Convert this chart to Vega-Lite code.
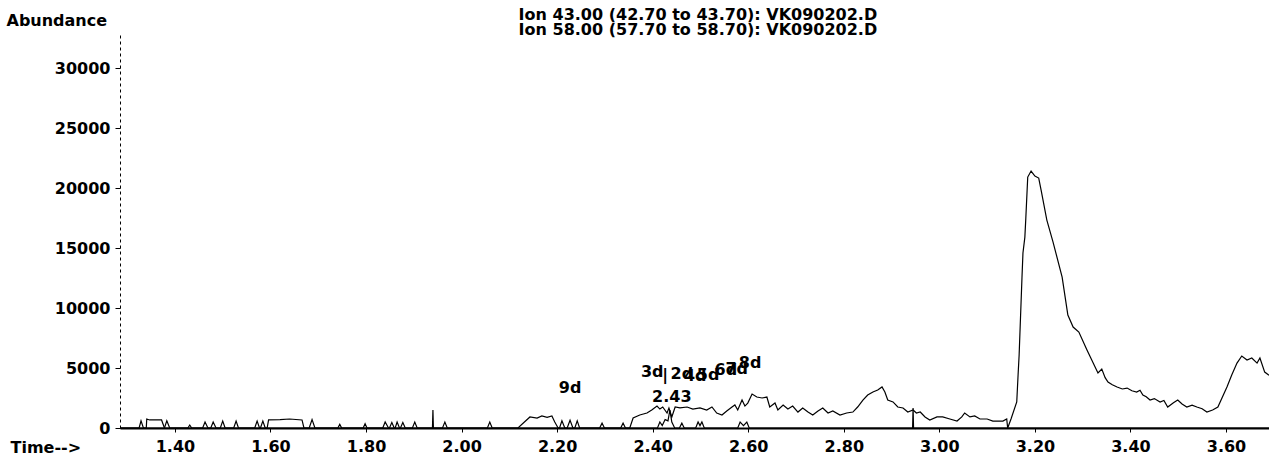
{
  "$schema": "https://vega.github.io/schema/vega-lite/v6.json",
  "width": 1149,
  "height": 396,
  "autosize": {"type": "none"},
  "padding": {"left": 120, "top": 32, "right": 0, "bottom": 33},
  "background": "white",
  "config": {
    "view": {"stroke": null},
    "font": "DejaVu Sans",
    "axis": {"grid": false, "domainColor": "black", "tickColor": "black", "labelColor": "black", "titleColor": "black"}
  },
  "datasets": {
    "ion43": [
      {"t":1.285,"v":0},{"t":1.340,"v":0},{"t":1.341,"v":750},{"t":1.347,"v":670},{"t":1.372,"v":670},{"t":1.378,"v":0},
      {"t":1.593,"v":0},{"t":1.596,"v":670},{"t":1.620,"v":690},{"t":1.640,"v":750},{"t":1.666,"v":670},{"t":1.670,"v":0},
      {"t":2.118,"v":0},{"t":2.143,"v":920},{"t":2.158,"v":830},{"t":2.168,"v":1000},{"t":2.179,"v":880},{"t":2.189,"v":1000},{"t":2.195,"v":500},{"t":2.202,"v":0},
      {"t":2.352,"v":0},{"t":2.359,"v":830},{"t":2.373,"v":1080},{"t":2.388,"v":1250},{"t":2.398,"v":1500},{"t":2.409,"v":1830},{"t":2.415,"v":1580},{"t":2.421,"v":1750},{"t":2.430,"v":1250},{"t":2.434,"v":1670},{"t":2.440,"v":920},{"t":2.447,"v":1750},{"t":2.457,"v":1670},{"t":2.472,"v":1750},{"t":2.484,"v":1580},{"t":2.499,"v":1670},{"t":2.513,"v":1500},{"t":2.524,"v":1750},{"t":2.534,"v":1250},{"t":2.545,"v":1080},{"t":2.555,"v":1420},{"t":2.566,"v":1750},{"t":2.572,"v":1920},{"t":2.578,"v":1500},{"t":2.587,"v":2330},{"t":2.593,"v":1830},{"t":2.599,"v":2080},{"t":2.608,"v":2830},{"t":2.618,"v":2580},{"t":2.629,"v":2500},{"t":2.639,"v":2580},{"t":2.645,"v":1750},{"t":2.656,"v":2080},{"t":2.662,"v":1500},{"t":2.673,"v":1920},{"t":2.683,"v":1580},{"t":2.693,"v":1830},{"t":2.704,"v":1330},{"t":2.714,"v":1670},{"t":2.725,"v":1330},{"t":2.735,"v":1080},{"t":2.746,"v":1420},{"t":2.756,"v":1670},{"t":2.767,"v":1250},{"t":2.777,"v":1420},{"t":2.792,"v":1080},{"t":2.806,"v":1250},{"t":2.819,"v":1330},{"t":2.829,"v":1750},{"t":2.840,"v":2330},{"t":2.850,"v":2750},{"t":2.861,"v":3000},{"t":2.871,"v":3170},{"t":2.880,"v":3420},{"t":2.886,"v":3000},{"t":2.892,"v":2330},{"t":2.903,"v":2170},{"t":2.913,"v":1750},{"t":2.924,"v":1670},{"t":2.934,"v":1330},{"t":2.945,"v":1500},{"t":2.952,"v":1250},{"t":2.960,"v":1330},{"t":2.970,"v":920},{"t":2.980,"v":670},{"t":2.995,"v":920},{"t":3.007,"v":920},{"t":3.022,"v":750},{"t":3.037,"v":580},{"t":3.047,"v":920},{"t":3.053,"v":1250},{"t":3.064,"v":920},{"t":3.074,"v":1000},{"t":3.085,"v":750},{"t":3.100,"v":750},{"t":3.112,"v":580},{"t":3.133,"v":580},{"t":3.141,"v":750},{"t":3.143,"v":0},{"t":3.150,"v":750},
      {"t":3.162,"v":2170},{"t":3.165,"v":4580},{"t":3.167,"v":6080},{"t":3.173,"v":12580},{"t":3.175,"v":14580},{"t":3.179,"v":15910},{"t":3.181,"v":17490},{"t":3.185,"v":20910},{"t":3.192,"v":21410},{"t":3.200,"v":20990},{"t":3.208,"v":20830},{"t":3.213,"v":19830},{"t":3.225,"v":17330},{"t":3.238,"v":15490},{"t":3.257,"v":12580},{"t":3.269,"v":9410},{"t":3.280,"v":8410},{"t":3.292,"v":8000},{"t":3.309,"v":6500},{"t":3.313,"v":6160},{"t":3.332,"v":4580},{"t":3.340,"v":4910},{"t":3.347,"v":4200},{"t":3.353,"v":3830},{"t":3.362,"v":3600},{"t":3.372,"v":3420},{"t":3.383,"v":3250},{"t":3.393,"v":3330},{"t":3.403,"v":3100},{"t":3.413,"v":3000},{"t":3.420,"v":3150},{"t":3.426,"v":2750},{"t":3.433,"v":2600},{"t":3.441,"v":2330},{"t":3.450,"v":2450},{"t":3.462,"v":2170},{"t":3.470,"v":2300},{"t":3.478,"v":1750},{"t":3.490,"v":2100},{"t":3.499,"v":2330},{"t":3.508,"v":2000},{"t":3.518,"v":1750},{"t":3.529,"v":1900},{"t":3.539,"v":1750},{"t":3.550,"v":1600},{"t":3.560,"v":1330},{"t":3.572,"v":1500},{"t":3.583,"v":1750},{"t":3.602,"v":3420},{"t":3.612,"v":4420},{"t":3.623,"v":5410},{"t":3.633,"v":6000},{"t":3.644,"v":5660},{"t":3.654,"v":5830},{"t":3.665,"v":5410},{"t":3.671,"v":5830},{"t":3.681,"v":4660},{"t":3.690,"v":4400}
    ],
    "ion58": [
      {"t":1.285,"v":0},{"t":1.325,"v":0},{"t":1.329,"v":600},{"t":1.334,"v":0},{"t":1.378,"v":0},{"t":1.383,"v":600},{"t":1.389,"v":0},{"t":1.427,"v":0},{"t":1.431,"v":250},{"t":1.435,"v":0},{"t":1.458,"v":0},{"t":1.463,"v":500},{"t":1.469,"v":0},{"t":1.475,"v":0},{"t":1.480,"v":500},{"t":1.486,"v":0},{"t":1.495,"v":0},{"t":1.500,"v":580},{"t":1.505,"v":0},{"t":1.523,"v":0},{"t":1.528,"v":580},{"t":1.533,"v":0},{"t":1.567,"v":0},{"t":1.572,"v":580},{"t":1.577,"v":0},{"t":1.579,"v":0},{"t":1.584,"v":580},{"t":1.589,"v":0},{"t":1.681,"v":0},{"t":1.687,"v":700},{"t":1.693,"v":0},{"t":1.741,"v":0},{"t":1.745,"v":300},{"t":1.749,"v":0},{"t":1.794,"v":0},{"t":1.798,"v":350},{"t":1.802,"v":0},{"t":1.835,"v":0},{"t":1.840,"v":500},{"t":1.847,"v":0},{"t":1.849,"v":0},{"t":1.854,"v":450},{"t":1.859,"v":0},{"t":1.861,"v":0},{"t":1.865,"v":500},{"t":1.870,"v":0},{"t":1.872,"v":0},{"t":1.877,"v":450},{"t":1.882,"v":0},{"t":1.897,"v":0},{"t":1.902,"v":500},{"t":1.907,"v":0},{"t":1.939,"v":0},{"t":1.940,"v":1500},{"t":1.941,"v":0},{"t":1.960,"v":0},{"t":1.965,"v":500},{"t":1.970,"v":0},{"t":2.054,"v":0},{"t":2.059,"v":500},{"t":2.064,"v":0},{"t":2.205,"v":0},{"t":2.210,"v":600},{"t":2.216,"v":0},{"t":2.221,"v":0},{"t":2.227,"v":650},{"t":2.233,"v":0},{"t":2.237,"v":0},{"t":2.242,"v":600},{"t":2.247,"v":0},{"t":2.289,"v":0},{"t":2.294,"v":400},{"t":2.299,"v":0},{"t":2.333,"v":0},{"t":2.338,"v":400},{"t":2.343,"v":0},{"t":2.410,"v":0},{"t":2.415,"v":500},{"t":2.420,"v":200},{"t":2.426,"v":700},{"t":2.432,"v":600},{"t":2.436,"v":1500},{"t":2.440,"v":500},{"t":2.446,"v":0},{"t":2.456,"v":0},{"t":2.461,"v":400},{"t":2.466,"v":0},{"t":2.490,"v":0},{"t":2.495,"v":500},{"t":2.499,"v":200},{"t":2.503,"v":500},{"t":2.508,"v":0},{"t":2.578,"v":0},{"t":2.583,"v":500},{"t":2.590,"v":200},{"t":2.597,"v":500},{"t":2.602,"v":0},{"t":2.944,"v":0},{"t":2.945,"v":1670},{"t":2.946,"v":0},{"t":3.690,"v":0}
    ],
    "labels": [
      {"t":2.227,"v":3330,"label":"9d"},
      {"t":2.399,"v":4670,"label":"3d"},
      {"t":2.426,"v":4420,"label":"|"},
      {"t":2.461,"v":4500,"label":"2d"},
      {"t":2.489,"v":4330,"label":"4d"},
      {"t":2.516,"v":4420,"label":"5d"},
      {"t":2.553,"v":4830,"label":"6d"},
      {"t":2.576,"v":4920,"label":"7d"},
      {"t":2.604,"v":5420,"label":"8d"},
      {"t":2.440,"v":2580,"label":"2.43"}
    ]
  },
  "layer": [
    {
      "data": {"name": "ion43"},
      "mark": {"type": "line", "color": "black", "strokeWidth": 1.2, "interpolate": "linear"},
      "encoding": {
        "x": {
          "field": "t", "type": "quantitative",
          "scale": {"domain": [1.285, 3.69], "nice": false, "zero": false},
          "axis": {
            "values": [1.4, 1.6, 1.8, 2.0, 2.2, 2.4, 2.6, 2.8, 3.0, 3.2, 3.4, 3.6],
            "format": ".2f",
            "labelFont": "DejaVu Sans", "labelFontWeight": "bold", "labelFontSize": 16,
            "labelFlush": false, "labelOverlap": false,
            "tickSize": 4, "labelPadding": 6, "domainWidth": 2,
            "title": "Time-->",
            "titleFont": "DejaVu Sans", "titleFontWeight": "bold", "titleFontSize": 16,
            "titleX": -110, "titleY": 24, "titleAlign": "left", "titleBaseline": "alphabetic"
          }
        },
        "y": {
          "field": "v", "type": "quantitative",
          "scale": {"domain": [0, 33000], "nice": false},
          "axis": {
            "values": [0, 5000, 10000, 15000, 20000, 25000, 30000],
            "format": "d",
            "labelFont": "DejaVu Sans", "labelFontWeight": "bold", "labelFontSize": 16,
            "labelFlush": false,
            "tickSize": 5, "labelPadding": 5,
            "domainDash": [3, 3], "domainWidth": 1,
            "title": "Abundance",
            "titleFont": "DejaVu Sans", "titleFontWeight": "bold", "titleFontSize": 16,
            "titleAngle": 0, "titleX": -114, "titleY": -12, "titleAlign": "left", "titleBaseline": "middle"
          }
        }
      }
    },
    {
      "data": {"name": "ion58"},
      "mark": {"type": "line", "color": "black", "strokeWidth": 1.2},
      "encoding": {
        "x": {"field": "t", "type": "quantitative"},
        "y": {"field": "v", "type": "quantitative"}
      }
    },
    {
      "data": {"name": "labels"},
      "mark": {"type": "text", "font": "DejaVu Sans", "fontWeight": "bold", "fontSize": 16, "color": "black", "align": "center", "baseline": "middle"},
      "encoding": {
        "x": {"field": "t", "type": "quantitative"},
        "y": {"field": "v", "type": "quantitative"},
        "text": {"field": "label"}
      }
    },
    {
      "data": {"values": [{}]},
      "mark": {
        "type": "text", "font": "DejaVu Sans", "fontWeight": "bold", "fontSize": 16, "color": "black",
        "align": "right", "baseline": "top", "lineHeight": 15,
        "text": ["Ion  43.00 (42.70 to 43.70): VK090202.D", "Ion  58.00 (57.70 to 58.70): VK090202.D"]
      },
      "encoding": {
        "x": {"datum": 2.870, "type": "quantitative"},
        "y": {"datum": 35080, "type": "quantitative"}
      }
    }
  ]
}
